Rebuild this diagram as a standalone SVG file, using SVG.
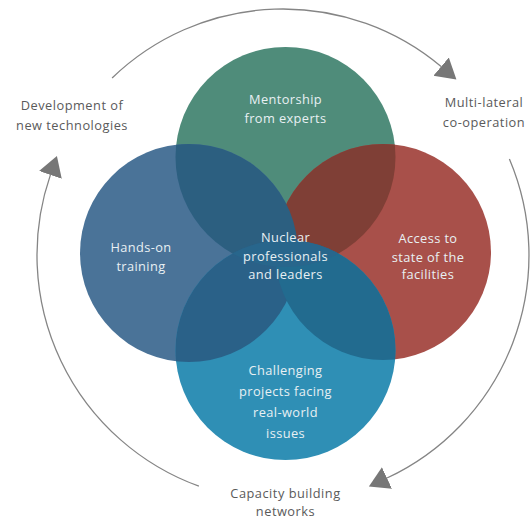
<svg xmlns="http://www.w3.org/2000/svg" width="531" height="521" viewBox="0 0 531 521">
  <style>
    .lbl { font-family: "Open Sans", "Noto Sans", sans-serif; font-size: 12.8px; fill: #5a5a5a; text-anchor: middle; letter-spacing: 0.5px; }
    .in { font-family: "Open Sans", "Noto Sans", sans-serif; font-size: 12.8px; fill: #e8f0f3; text-anchor: middle; letter-spacing: 0.4px; }
    .arc { fill: none; stroke: #858585; stroke-width: 1.3; }
  </style>
  <defs>
    <marker id="head" markerUnits="userSpaceOnUse" markerWidth="22" markerHeight="26" refX="0" refY="12" orient="auto" viewBox="0 0 22 24">
      <path d="M0,0 L20,12 L0,24 Z" fill="#777777"/>
    </marker>
    <clipPath id="clipGreen"><circle cx="285.5" cy="157" r="110"/></clipPath>
    <clipPath id="clipBlue"><circle cx="189" cy="253" r="109"/></clipPath>
    <clipPath id="clipRed"><circle cx="383" cy="252" r="108"/></clipPath>
  </defs>

  <rect width="531" height="521" fill="#ffffff"/>

  <!-- outer cycle arcs -->
  <g id="connectors">
    <path class="arc" d="M112.1,78 A246,246 0 0 1 441.1,66.6" marker-end="url(#head)"/>
    <path class="arc" d="M509.4,158.9 A246,246 0 0 1 387,478" marker-end="url(#head)"/>
    <path class="arc" d="M198.9,486.2 A246,246 0 0 1 50.4,174.9" marker-end="url(#head)"/>
  </g>

  <!-- base circles -->
  <g id="circle-mentorship"><circle cx="285.5" cy="157" r="110" fill="#4f8c7a"/></g>
  <g id="circle-hands-on"><circle cx="189" cy="253" r="109" fill="#4a7398"/></g>
  <g id="circle-access"><circle cx="383" cy="252" r="108" fill="#a8504a"/></g>
  <g id="circle-challenging"><circle cx="285.5" cy="350" r="110" fill="#2f8fb5"/></g>

  <!-- overlap shading -->
  <g id="overlaps">
    <circle cx="383" cy="252" r="108" fill="#7f3f36" clip-path="url(#clipGreen)"/>
    <circle cx="189" cy="253" r="109" fill="#2c5f80" clip-path="url(#clipGreen)"/>
    <circle cx="285.5" cy="350" r="110" fill="#2a6188" clip-path="url(#clipBlue)"/>
    <circle cx="285.5" cy="350" r="110" fill="#226b8f" clip-path="url(#clipRed)"/>
    <circle cx="285.5" cy="350" r="110" fill="#28668c" clip-path="url(#clipGreen)"/>
  </g>

  <!-- circle captions -->
  <g id="text-mentorship">
    <text class="in" x="285.5" y="104">Mentorship</text>
    <text class="in" x="285.5" y="123">from experts</text>
  </g>
  <g id="text-hands-on">
    <text class="in" x="141" y="252">Hands-on</text>
    <text class="in" x="141" y="271">training</text>
  </g>
  <g id="text-center">
    <text class="in" x="285.5" y="242">Nuclear</text>
    <text class="in" x="285.5" y="260.5">professionals</text>
    <text class="in" x="285.5" y="279">and leaders</text>
  </g>
  <g id="text-access">
    <text class="in" x="428" y="243">Access to</text>
    <text class="in" x="428" y="261.5">state of the</text>
    <text class="in" x="428" y="279">facilities</text>
  </g>
  <g id="text-challenging">
    <text class="in" x="285.5" y="375">Challenging</text>
    <text class="in" x="285.5" y="395.5">projects facing</text>
    <text class="in" x="285.5" y="416.5">real-world</text>
    <text class="in" x="285.5" y="437.5">issues</text>
  </g>

  <!-- outer labels -->
  <g id="label-development">
    <text class="lbl" x="72" y="110">Development of</text>
    <text class="lbl" x="72" y="130">new technologies</text>
  </g>
  <g id="label-multilateral">
    <text class="lbl" x="484" y="107">Multi-lateral</text>
    <text class="lbl" x="484" y="127">co-operation</text>
  </g>
  <g id="label-capacity">
    <text class="lbl" x="285.5" y="498">Capacity building</text>
    <text class="lbl" x="285.5" y="516">networks</text>
  </g>
</svg>
